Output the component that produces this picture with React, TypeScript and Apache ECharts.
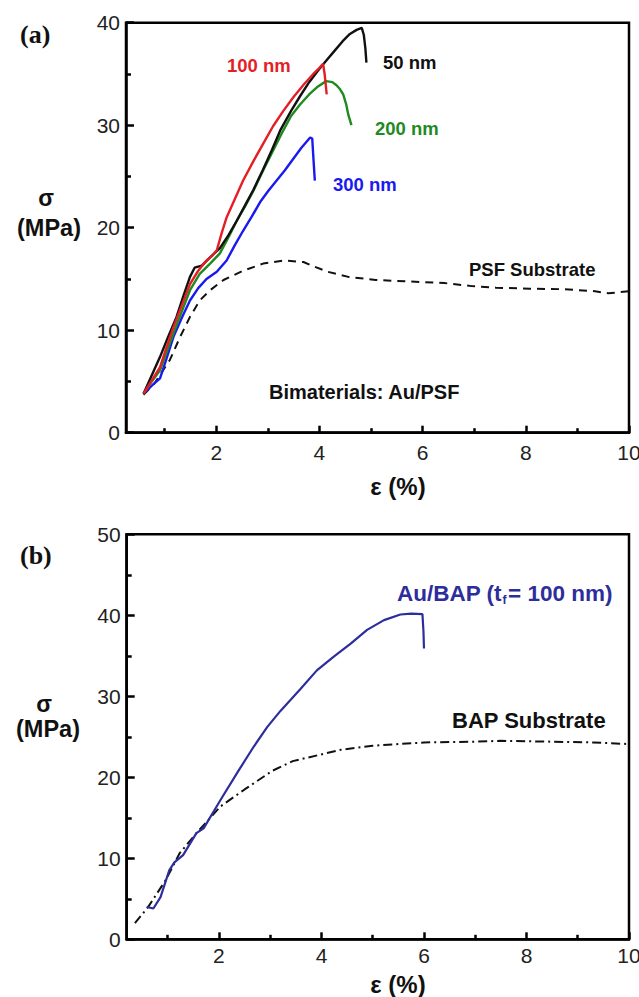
import React, { useEffect, useRef } from 'react';
import * as echarts from 'echarts';

// Strain axis ticks (both panels)
const strainMajorTicks = [2, 4, 6, 8, 10];
const strainMinorTicks = [1, 3, 5, 7, 9];

// Panel (a): Au/PSF bimaterials, stress (MPa) vs strain (%)
const psf50nm = [
  [0.59, 3.8], [0.75, 5.6], [0.91, 7.4], [1.07, 9.4], [1.23, 11.3], [1.36, 13.3], [1.49, 15.2],
  [1.58, 16.1], [1.72, 16.3], [1.88, 17.1], [2.07, 18.0], [2.24, 19.3], [2.4, 20.7], [2.56, 22.2],
  [2.72, 23.7], [2.9, 25.6], [3.08, 27.6], [3.25, 29.6], [3.45, 31.4], [3.62, 32.8], [3.8, 34.2],
  [4.0, 35.5], [4.15, 36.4], [4.3, 37.3], [4.45, 38.2], [4.59, 38.9], [4.72, 39.3], [4.82, 39.5],
  [4.86, 38.8], [4.89, 37.5], [4.91, 36.1],
];
const psf100nm = [
  [0.59, 3.8], [0.75, 5.1], [0.91, 6.4], [1.04, 8.4], [1.17, 10.3], [1.33, 12.4], [1.49, 14.5],
  [1.65, 15.8], [1.81, 16.8], [1.91, 17.2], [2.01, 17.8], [2.1, 19.4], [2.2, 21.0], [2.36, 22.8],
  [2.52, 24.6], [2.72, 26.5], [2.91, 28.2], [3.1, 29.9], [3.3, 31.4], [3.49, 32.7], [3.7, 34.0],
  [3.88, 35.0], [4.0, 35.6], [4.07, 36.0], [4.1, 35.0], [4.12, 34.0], [4.14, 33.0],
];
const psf200nm = [
  [0.59, 3.8], [0.75, 5.0], [0.91, 6.1], [1.04, 7.9], [1.17, 9.7], [1.33, 11.8], [1.49, 13.9],
  [1.68, 15.5], [1.88, 16.5], [2.07, 17.5], [2.24, 19.1], [2.4, 20.7], [2.56, 22.1], [2.72, 23.6],
  [2.91, 25.6], [3.1, 27.5], [3.3, 29.5], [3.45, 30.9], [3.62, 32.0], [3.8, 33.0], [3.95, 33.7],
  [4.13, 34.3], [4.25, 34.2], [4.33, 33.9], [4.4, 33.5], [4.46, 33.0], [4.52, 32.0], [4.56, 31.0],
  [4.62, 30.0],
];
const psf300nm = [
  [0.59, 3.8], [0.75, 4.6], [0.91, 5.3], [1.04, 7.3], [1.17, 9.35], [1.33, 11.2], [1.49, 12.9],
  [1.65, 14.1], [1.81, 15.0], [2.01, 15.7], [2.2, 16.8], [2.36, 18.3], [2.52, 19.7], [2.69, 21.1],
  [2.85, 22.5], [3.01, 23.6], [3.17, 24.6], [3.33, 25.6], [3.49, 26.7], [3.65, 27.8], [3.82, 28.8],
  [3.86, 28.7], [3.88, 27.0], [3.91, 24.6],
];
const psfSubstrate = [
  [0.59, 3.7], [0.8, 4.8], [0.97, 6.1], [1.1, 7.1], [1.3, 9.35], [1.49, 11.3], [1.68, 12.9],
  [1.88, 13.9], [2.14, 14.9], [2.52, 15.8], [2.91, 16.5], [3.3, 16.8], [3.69, 16.65], [3.9, 16.2],
  [4.16, 15.7], [4.56, 15.2], [5.09, 14.9], [5.75, 14.75], [6.42, 14.6], [6.95, 14.3], [7.42, 14.15],
  [8.08, 14.05], [8.74, 14.0], [9.34, 13.8], [9.6, 13.6], [10.0, 13.8],
];

// Panel (b): Au/BAP bimaterial (100 nm film) and BAP substrate
const bap100nm = [
  [0.59, 4.0], [0.72, 3.8], [0.86, 5.2], [1.03, 8.5], [1.13, 9.5], [1.3, 10.4], [1.56, 13.1],
  [1.7, 13.7], [2.03, 17.2], [2.37, 20.7], [2.68, 23.8], [2.94, 26.2], [3.2, 28.2], [3.39, 29.5],
  [3.59, 30.9], [3.91, 33.2], [4.24, 34.9], [4.57, 36.5], [4.89, 38.2], [5.22, 39.4], [5.54, 40.1],
  [5.75, 40.2], [5.97, 40.15], [5.99, 38.0], [6.0, 35.9],
];
const bapSubstrate = [
  [0.36, 2.0], [0.62, 4.0], [0.96, 7.3], [1.23, 10.6], [1.56, 13.1], [2.03, 16.4], [2.5, 18.5],
  [3.04, 20.8], [3.44, 22.0], [3.98, 22.8], [4.38, 23.4], [5.0, 23.9], [6.0, 24.3], [7.0, 24.4],
  [7.5, 24.5], [8.5, 24.4], [9.3, 24.3], [10.0, 24.1],
];

const SANS = '"Liberation Sans", Arial, sans-serif';
const SERIF = '"Liberation Serif", "Times New Roman", serif';

const RED = '#e41e26';
const GREEN = '#1f8a1f';
const BLUE = '#1a1af0';
const NAVY = '#2d2d9c';

function mainX(min: number, margin: number) {
  return {
    type: 'value', min, max: 10,
    axisLine: { show: true, lineStyle: { color: '#000', width: 2.5 } },
    axisTick: { show: true, inside: true, length: 7, lineStyle: { color: '#000', width: 2.5 }, customValues: strainMajorTicks },
    axisLabel: { show: true, customValues: strainMajorTicks, fontSize: 21, fontFamily: SANS, color: '#222', margin },
    splitLine: { show: false },
  };
}
function minorX(min: number) {
  return {
    type: 'value', min, max: 10, position: 'bottom', offset: 0,
    axisLine: { show: false },
    axisTick: { show: true, inside: true, length: 4.5, lineStyle: { color: '#000', width: 2.5 }, customValues: strainMinorTicks },
    axisLabel: { show: false },
    splitLine: { show: false },
  };
}
function stressY(max: number) {
  return {
    type: 'value', min: 0, max, interval: 10,
    axisLine: { show: true, lineStyle: { color: '#000', width: 2.5 } },
    axisTick: { show: true, inside: true, length: 8, lineStyle: { color: '#000', width: 2.5 } },
    minorTick: { show: true, splitNumber: 2, length: 5, lineStyle: { color: '#000', width: 2.5 } },
    axisLabel: { fontSize: 21, fontFamily: SANS, color: '#222', margin: 6 },
    splitLine: { show: false },
  };
}
function curve(data: number[][], color: string, width: number, dash?: number[]) {
  return {
    type: 'line', data, showSymbol: false, symbol: 'none',
    lineStyle: dash ? { color, width, type: dash } : { color, width },
  };
}
function label(text: string, x: number, y: number, color: string, size: number, align = 'left', family = SANS) {
  return {
    type: 'text', x, y,
    style: { text, fill: color, fontSize: size, fontWeight: 'bold', fontFamily: family, align, verticalAlign: 'middle' },
  };
}

// Upper panel: 639 x 500 canvas
function psfOption() {
  return {
    animation: false,
    grid: [{ left: 126, top: 22.7, width: 503, height: 410, show: true, borderColor: '#000', borderWidth: 2.5, backgroundColor: 'transparent', outerBoundsMode: 'none' }],
    xAxis: [mainX(0.25, 9), minorX(0.25)],
    yAxis: [stressY(40)],
    series: [
      curve(psfSubstrate, '#111', 2, [8, 6]),
      curve(psf300nm, BLUE, 2.4),
      curve(psf200nm, GREEN, 2.4),
      curve(psf50nm, '#111', 2.4),
      curve(psf100nm, RED, 2.4),
    ],
    graphic: [
      label('(a)', 20, 34, '#111', 26, 'left', SERIF),
      label('σ', 46, 198, '#111', 23, 'center'),
      label('(MPa)', 49, 228, '#111', 23.5, 'center'),
      label('100 nm', 227, 65, RED, 18.5),
      label('50 nm', 383, 62, '#111', 18.5),
      label('200 nm', 375, 128, GREEN, 18.5),
      label('300 nm', 333, 184, BLUE, 18.5),
      label('PSF Substrate', 469, 269, '#111', 18.5),
      label('Bimaterials: Au/PSF', 269, 392, '#111', 20),
      label('ε (%)', 398, 486, '#111', 24, 'center'),
    ],
  };
}

// Lower panel: 639 x 497 canvas placed 500 px down
function bapOption() {
  return {
    animation: false,
    grid: [{ left: 126.7, top: 34.3, width: 502.3, height: 405, show: true, borderColor: '#000', borderWidth: 2.5, backgroundColor: 'transparent', outerBoundsMode: 'none' }],
    xAxis: [mainX(0.2, 6), minorX(0.2)],
    yAxis: [stressY(50)],
    series: [
      curve(bapSubstrate, '#111', 2, [9, 4, 2, 4]),
      curve(bap100nm, NAVY, 2.2),
    ],
    graphic: [
      label('(b)', 20, 55, '#111', 26, 'left', SERIF),
      label('σ', 44, 204, '#111', 23, 'center'),
      label('(MPa)', 48, 229, '#111', 23.5, 'center'),
      label('Au/BAP (t', 397, 93, NAVY, 22.5),
      label('f', 502.5, 100, NAVY, 12),
      label('= 100 nm)', 508, 93, NAVY, 22.5),
      label('BAP Substrate', 452, 220, '#111', 22),
      label('ε (%)', 398, 484, '#111', 24, 'center'),
    ],
  };
}

function Panel(props: { top: number; height: number; build: () => any }) {
  const ref = useRef<HTMLDivElement>(null);
  useEffect(() => {
    const chart = echarts.init(ref.current!, null, { renderer: 'svg' });
    chart.setOption(props.build());
    return () => chart.dispose();
  }, []);
  return (
    <div
      ref={ref}
      style={{ position: 'absolute', left: 0, top: props.top, width: 639, height: props.height, background: '#fff' }}
    />
  );
}

export default function App() {
  return (
    <div style={{ position: 'absolute', left: 0, top: 0, width: 639, height: 997, background: '#fff' }}>
      <Panel top={0} height={500} build={psfOption} />
      <Panel top={500} height={497} build={bapOption} />
    </div>
  );
}
